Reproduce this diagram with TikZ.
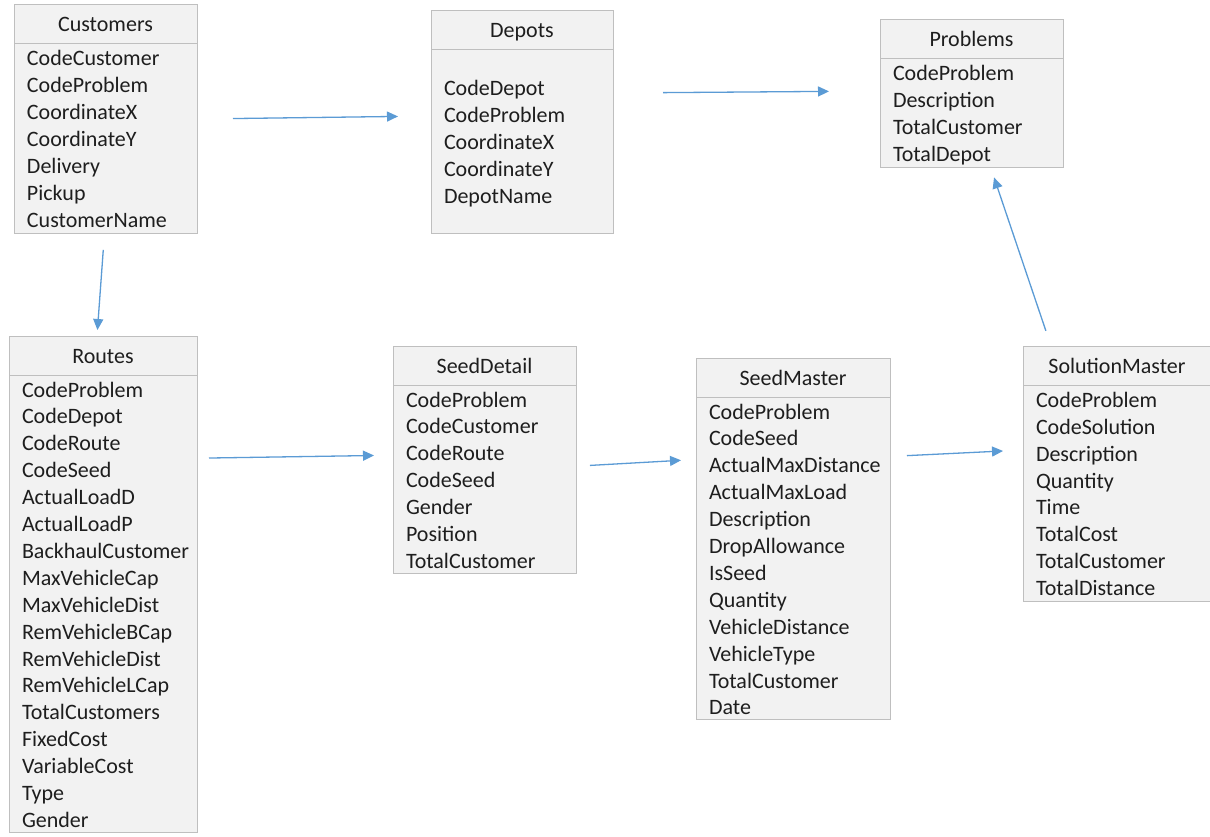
\documentclass[tikz,border=0pt]{standalone}
\usepackage{fontspec}
\setmainfont{Carlito}
\definecolor{BoxLine}{RGB}{191, 191, 191}
\definecolor{BoxFill}{RGB}{242, 242, 242}
\definecolor{LinkBlue}{RGB}{91, 155, 213}
\definecolor{InkGrey}{RGB}{30, 30, 30}
\usetikzlibrary{arrows.meta, positioning, calc}

\begin{document}
\begin{tikzpicture}[
            x=1pt, y=-1pt,
            tabhead/.style={rectangle, draw=BoxLine, fill=BoxFill, line width=0.9pt,
                            anchor=north west, minimum height=39pt, inner sep=0pt, outer sep=0pt,
                            text height=18pt, text depth=2pt,
                            text=InkGrey, font=\fontsize{22}{26.9}\selectfont},
            tabbody/.style={rectangle, draw=BoxLine, fill=BoxFill, line width=0.9pt,
                            align=left, inner xsep=13pt, inner ysep=0pt, outer sep=0pt,
                            execute at begin node={\rule{0pt}{22pt}},
                            execute at end node={\rule[-5pt]{0pt}{0pt}},
                            text=InkGrey, font=\fontsize{22}{26.9}\selectfont},
            link/.style={-{Triangle[length=11pt, width=10pt]}, line width=1.3pt, LinkBlue}
        ]
            \path[use as bounding box, fill=white] (0,0) rectangle (1210,836);

            % tables
            \node[tabhead, minimum width=183pt] (cust) at (14,4) {Customers};
            \node[tabbody, below=0pt of cust, text width=157pt, minimum height=190pt] (custbody)
                {CodeCustomer\\CodeProblem\\CoordinateX\\CoordinateY\\Delivery\\Pickup\\CustomerName};

            \node[tabhead, minimum width=182pt] (depot) at (431,10) {Depots};
            \node[tabbody, below=0pt of depot, text width=156pt, minimum height=184pt] (depotbody)
                {CodeDepot\\CodeProblem\\CoordinateX\\CoordinateY\\DepotName};

            \node[tabhead, minimum width=183pt] (prob) at (880,19) {Problems};
            \node[tabbody, below=0pt of prob, text width=157pt, minimum height=109pt] (probbody)
                {CodeProblem\\Description\\TotalCustomer\\TotalDepot};

            \node[tabhead, minimum width=188pt] (route) at (9,336) {Routes};
            \node[tabbody, below=0pt of route, text width=162pt, minimum height=457pt] (routebody)
                {CodeProblem\\CodeDepot\\CodeRoute\\CodeSeed\\ActualLoadD\\ActualLoadP\\BackhaulCustomer\\
                 MaxVehicleCap\\MaxVehicleDist\\RemVehicleBCap\\RemVehicleDist\\RemVehicleLCap\\
                 TotalCustomers\\FixedCost\\VariableCost\\Type\\Gender};

            \node[tabhead, minimum width=183pt] (seeddet) at (393,346) {SeedDetail};
            \node[tabbody, below=0pt of seeddet, text width=157pt, minimum height=188pt] (seeddetbody)
                {CodeProblem\\CodeCustomer\\CodeRoute\\CodeSeed\\Gender\\Position\\TotalCustomer};

            \node[tabhead, minimum width=194pt] (seedmas) at (696,358) {SeedMaster};
            \node[tabbody, below=0pt of seedmas, text width=168pt, minimum height=322pt] (seedmasbody)
                {CodeProblem\\CodeSeed\\ActualMaxDistance\\ActualMaxLoad\\Description\\DropAllowance\\
                 IsSeed\\Quantity\\VehicleDistance\\VehicleType\\TotalCustomer\\Date};

            \node[tabhead, minimum width=188pt] (solmas) at (1023,346) {SolutionMaster};
            \node[tabbody, below=0pt of solmas, text width=162pt, minimum height=216pt] (solmasbody)
                {CodeProblem\\CodeSolution\\Description\\Quantity\\Time\\TotalCost\\TotalCustomer\\TotalDistance};

            % links
            \draw[link, shorten <=36pt, shorten >=33pt] ([yshift=19pt]custbody.east) -- ([yshift=25pt]depotbody.west);
            \draw[link, shorten <=50pt, shorten >=51pt] ([yshift=48pt]depotbody.east) -- ([yshift=21.5pt]probbody.west);
            \draw[link, shorten <=17pt, shorten >=6pt] ([xshift=-1pt]custbody.south) -- ([xshift=-6pt]route.north);
            \draw[link, shorten <=12pt, shorten >=19pt] ([yshift=145.5pt]routebody.east) -- ([yshift=24pt]seeddetbody.west);
            \draw[link, shorten <=14pt, shorten >=15pt] ([yshift=13pt]seeddetbody.east) -- ([yshift=99pt]seedmasbody.west);
            \draw[link, shorten <=17pt, shorten >=20pt] ([yshift=102pt]seedmasbody.east) -- ([yshift=43pt]solmasbody.west);
            \draw[link, shorten <=16pt, shorten >=11pt] ([xshift=-66pt]solmas.north) -- ([xshift=19pt]probbody.south);
        \end{tikzpicture}
\end{document}
